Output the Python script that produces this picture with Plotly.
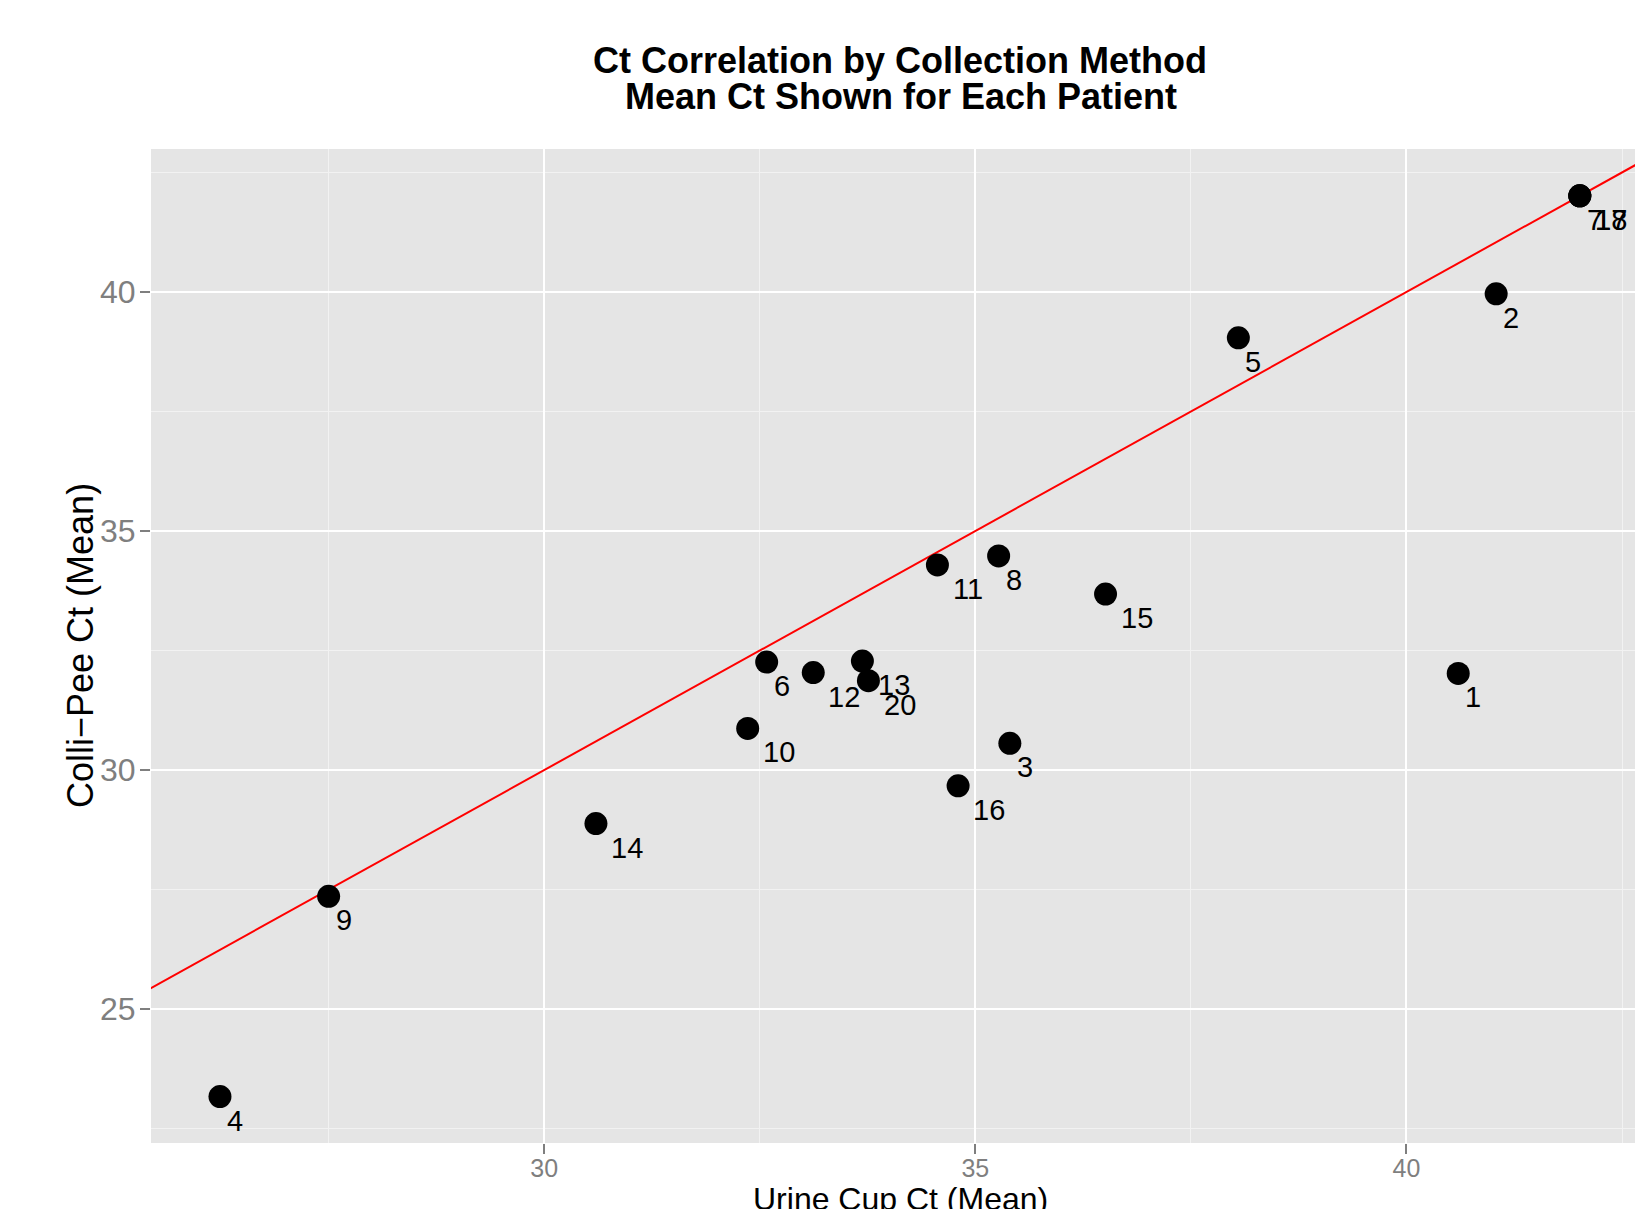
import plotly.graph_objects as go

# ---- data ----
patients = ["1", "2", "3", "4", "5", "6", "7", "8", "9", "10",
            "11", "12", "13", "14", "15", "16", "17", "18", "20"]
urine_cup_ct = [40.60, 41.04, 35.40, 26.24, 38.05, 32.58, 42.01, 35.27, 27.50, 32.36,
                34.56, 33.12, 33.69, 30.60, 36.51, 34.80, 42.01, 42.01, 33.76]
colli_pee_ct = [32.02, 39.96, 30.56, 23.17, 39.04, 32.26, 42.01, 34.48, 27.36, 30.87,
                34.29, 32.04, 32.28, 28.88, 33.68, 29.67, 42.01, 42.01, 31.87]
line_intercept = 0.0
line_slope = 1.0
x_ticks = [30, 35, 40]
y_ticks = [25, 30, 35, 40]

title_lines = ["Ct Correlation by Collection Method", "Mean Ct Shown for Each Patient"]
x_title = "Urine Cup Ct (Mean)"
y_title = "Colli\u2212Pee Ct (Mean)"

# ---- layout geometry ----
OFF = 0  # page body margin (removed by post_script)
W, H = 1635 - OFF, 1209 - OFF
ML, MR, MT, MB = 151 - OFF, 0, 149 - OFF, 66
x_range = [25.44, 42.65]
y_range = [22.20, 42.99]
FONT = "Liberation Sans, Arial, sans-serif"
LABEL_SIZE = 29
DIGIT_W = 0.556 * LABEL_SIZE
plot_h = H - MT - MB
plot_w = W - ML - MR


def py_to_paper(py):
    # py: page pixel y
    return (H - MB - (py - OFF)) / plot_h


def px_to_paper(px):
    return ((px - OFF) - ML) / plot_w


fig = go.Figure()

# reference line y = intercept + slope * x
lx = [20, 50]
fig.add_trace(go.Scatter(
    x=lx, y=[line_intercept + line_slope * v for v in lx],
    mode="lines", line=dict(color="#FF0000", width=2),
    hoverinfo="skip", showlegend=False))

fig.add_trace(go.Scatter(
    x=urine_cup_ct, y=colli_pee_ct, mode="markers",
    marker=dict(color="black", size=23, line=dict(width=0)),
    text=patients, showlegend=False))

annotations = []
for xv, yv, lab in zip(urine_cup_ct, colli_pee_ct, patients):
    # text left edge sits half a label width to the right of the point (hjust = -0.5)
    annotations.append(dict(
        x=xv, y=yv, xref="x", yref="y", text=lab, showarrow=False,
        xanchor="left", yanchor="top",
        xshift=0.5 * DIGIT_W * len(lab) - 3, yshift=-6,
        font=dict(family=FONT, size=LABEL_SIZE, color="black")))

# title lines
annotations.append(dict(x=px_to_paper(900), y=py_to_paper(60), xref="paper", yref="paper",
                        text="<b>%s</b>" % title_lines[0], showarrow=False,
                        xanchor="center", yanchor="middle",
                        font=dict(family=FONT, size=36, color="black")))
annotations.append(dict(x=px_to_paper(901), y=py_to_paper(96), xref="paper", yref="paper",
                        text="<b>%s</b>" % title_lines[1], showarrow=False,
                        xanchor="center", yanchor="middle",
                        font=dict(family=FONT, size=36, color="black")))
# axis titles
annotations.append(dict(x=px_to_paper(900), y=py_to_paper(1179), xref="paper", yref="paper",
                        text=x_title, showarrow=False, xanchor="center", yanchor="top",
                        font=dict(family=FONT, size=32, color="black")))
annotations.append(dict(x=px_to_paper(80), y=py_to_paper(646), xref="paper", yref="paper",
                        text=y_title, showarrow=False, xanchor="center", yanchor="middle",
                        textangle=-90,
                        font=dict(family=FONT, size=36, color="black")))

axis_common = dict(
    showgrid=True, gridcolor="white", gridwidth=2,
    zeroline=False, showline=False,
    ticks="outside", ticklen=10, tickwidth=1.5, tickcolor="#7F7F7F",
    minor=dict(dtick=2.5, tick0=0, showgrid=True, gridcolor="#F2F2F2", gridwidth=1, ticks=""),
)

fig.update_layout(
    width=W, height=H,
    margin=dict(l=ML, r=MR, t=MT, b=MB, autoexpand=False),
    paper_bgcolor="white", plot_bgcolor="#E5E5E5",
    font=dict(family=FONT),
    annotations=annotations,
    xaxis=dict(range=x_range, tickvals=x_ticks, autorange=False,
               ticklabelstandoff=-7,
               tickfont=dict(family=FONT, size=25, color="#7F7F7F"),
               **axis_common),
    yaxis=dict(range=y_range, tickvals=y_ticks, autorange=False,
               ticklabelstandoff=-2,
               tickfont=dict(family=FONT, size=32, color="#7F7F7F"),
               **axis_common),
    showlegend=False,
)

fig.write_html("out.html",
               config={"displayModeBar": False},
               post_script="document.body.style.margin='0';document.body.style.overflow='hidden';")
